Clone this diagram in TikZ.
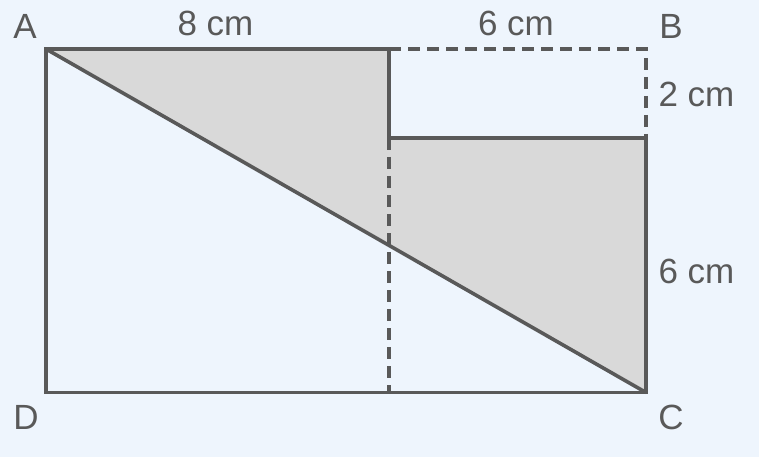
\documentclass[tikz,border=0pt]{standalone}
\usepackage{fontspec}
\setmainfont{Liberation Sans}
\definecolor{bg}{HTML}{EEF5FD}
\definecolor{ln}{HTML}{595959}
\definecolor{sh}{HTML}{D9D9D9}
\begin{document}
\begin{tikzpicture}[x=1pt,y=-1pt,
  edge/.style={draw=ln,line width=3.6pt,line join=miter},
  dashedge/.style={draw=ln,line width=3.6pt,dash pattern=on 12pt off 7pt},
  lbl/.style={text=ln,font=\fontsize{35}{37}\selectfont,inner sep=0pt,anchor=base},
  meas/.style={text=ln,font=\fontsize{35}{37}\selectfont,inner sep=0pt,anchor=base}]
\fill[bg] (0,0) rectangle (759,457);
\useasboundingbox (0,0) rectangle (759,457);
\coordinate (A) at (46,49);
\coordinate (B) at (646,49);
\coordinate (C) at (646,392.5);
\coordinate (D) at (46,392.5);
\coordinate (M) at (389,49);
\coordinate (S) at (389,138);
\coordinate (T) at (646,138);
\coordinate (N) at (389,392.5);
\fill[sh] (A) -- (M) -- (S) -- (T) -- (C) -- cycle;
\draw[dashedge] (M) -- (B) -- (T);
\draw[dashedge] (S) -- (N);
\draw[edge] (A) -- (M) -- (S) -- (T) -- (C) -- (D) -- cycle;
\draw[edge] (A) -- (C);
\node[lbl] (la) at (25,39) {A};
\node[lbl] (lb) at (671,39) {B};
\node[lbl] (lc) at (671,429) {C};
\node[lbl] (ld) at (26,429) {D};
\node[meas] (m1) at (215.5,36) {8 cm};
\node[meas] (m2) at (516,36) {6 cm};
\node[meas] (m3) at (696.5,107) {2 cm};
\node[meas] (m4) at (696.5,283) {6 cm};
\end{tikzpicture}
\end{document}
